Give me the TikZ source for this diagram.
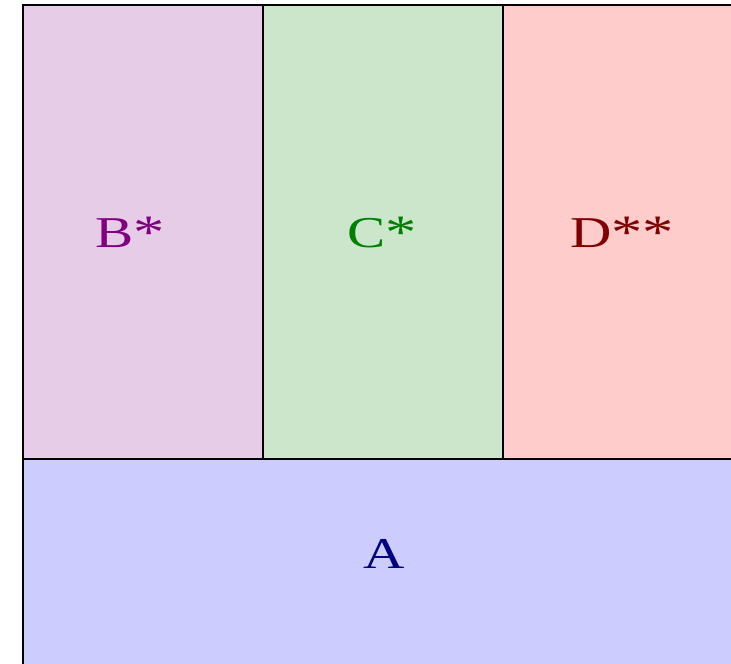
\documentclass[tikz,border=0pt]{standalone}
\usepackage{fontspec}
\setmainfont{Liberation Serif}
\definecolor{cB}{HTML}{800080}
\definecolor{cC}{HTML}{008000}
\definecolor{cD}{HTML}{800000}
\definecolor{cA}{HTML}{000080}
\tikzset{
  cell/.style={draw=black, line width=1.6pt},
  lbl/.style={inner sep=0pt, font=\fontsize{44}{48}\selectfont},
}
\newcommand{\wide}[1]{\scalebox{1.3}[1]{#1}}
\newcommand{\myast}{{\fontsize{48}{48}\selectfont\raisebox{-1pt}{*}}}
\begin{document}
\begin{tikzpicture}[x=1pt,y=-1pt]
\useasboundingbox (0,0) rectangle (731,664);
\clip (0,0) rectangle (731,664);
\fill[white] (0,0) rectangle (731,664);
\draw[cell, fill=cB!20] (23,5) rectangle (263,459);
\draw[cell, fill=cC!20] (263,5) rectangle (503,459);
\draw[cell, fill=red!20] (503,5) rectangle (743,459);
\draw[cell, fill=blue!20] (23,459) rectangle (743,700);
\node[lbl, text=cB] (b) at (130,233) {\wide{B\myast}};
\node[lbl, text=cC] (c) at (382,233) {\wide{C\myast}};
\node[lbl, text=cD] (d) at (622,233) {\wide{D\myast\myast}};
\node[lbl, text=cA] (a) at (384,554) {\wide{A}};
\end{tikzpicture}
\end{document}
